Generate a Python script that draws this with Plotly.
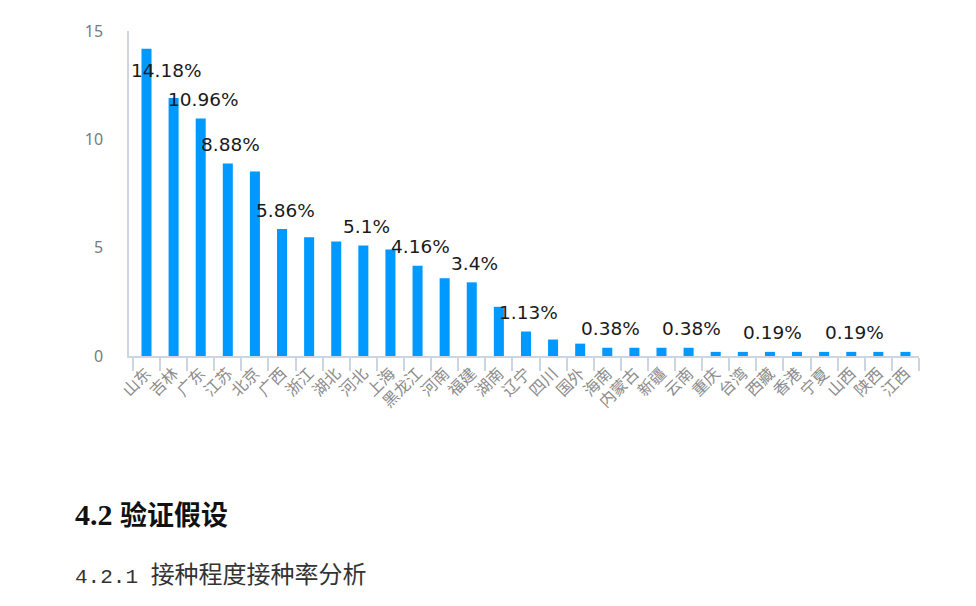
import plotly.graph_objects as go

provinces = ['山东', '吉林', '广东', '江苏', '北京', '广西', '浙江', '湖北', '河北', '上海',
             '黑龙江', '河南', '福建', '湖南', '辽宁', '四川', '国外', '海南', '内蒙古', '新疆',
             '云南', '重庆', '台湾', '西藏', '香港', '宁夏', '山西', '陕西', '江西']
values = [14.18, 11.91, 10.96, 8.88, 8.51, 5.86, 5.48, 5.29, 5.10, 4.91,
          4.16, 3.59, 3.40, 2.27, 1.13, 0.76, 0.57, 0.38, 0.38, 0.38,
          0.38, 0.19, 0.19, 0.19, 0.19, 0.19, 0.19, 0.19, 0.19]
labels = ['14.18%', '', '10.96%', '8.88%', '', '5.86%', '', '', '5.1%', '',
          '4.16%', '', '3.4%', '', '1.13%', '', '', '0.38%', '', '',
          '0.38%', '', '', '0.19%', '', '', '0.19%', '', '']
y_ticks = [0, 5, 10, 15]

heading_num, heading_txt = '4.2 ', '验证假设'
sub_num, sub_txt = '4.2.1 ', '接种程度接种率分析'

# page offset of the figure div (body margin)
OFF = 8
W, H = 976, 606
ML, MT = 129 - OFF, 24 - OFF
MR = W - (919 - OFF)
MB = H - (356 - OFF)
PW, PH = W - ML - MR, H - MT - MB

AXIS_COLOR = '#cdd6e0'
BAR_COLOR = '#0099ff'

fig = go.Figure()
fig.add_trace(go.Bar(
    x=provinces, y=values,
    marker=dict(color=BAR_COLOR, line=dict(width=0)),
    hoverinfo='x+y',
))

annotations = []
for i, (p, v, t) in enumerate(zip(provinces, values, labels)):
    if not t:
        continue
    if i == 0:
        xs, ys = 20, -22
    else:
        xs, ys = 3, 19
    annotations.append(dict(
        x=p, y=v, xref='x', yref='y', text=t, showarrow=False,
        xanchor='center', yanchor='middle', xshift=xs, yshift=ys,
        font=dict(family='DejaVu Sans', size=18.5, color='#1a1a1a'),
    ))


def px_to_paper(px, py):
    return (px - OFF - ML) / PW, (H - MB - (py - OFF)) / PH


hx, hy = px_to_paper(73, 517)
annotations.append(dict(
    x=hx, y=hy, xref='paper', yref='paper',
    text='<b><span style="font-family:Liberation Serif;font-size:30px">' + heading_num
         + '</span>' + heading_txt + '</b>',
    showarrow=False, xanchor='left', yanchor='middle',
    font=dict(family='Noto Sans CJK SC', size=27, color='#111111'),
))
sx, sy = px_to_paper(73, 577)
annotations.append(dict(
    x=sx, y=sy, xref='paper', yref='paper',
    text='<span style="font-family:Liberation Mono;font-size:21px">' + sub_num
         + '</span>' + sub_txt,
    showarrow=False, xanchor='left', yanchor='middle',
    font=dict(family='Noto Sans CJK SC', size=24, color='#333333'),
))

fig.update_layout(
    width=W, height=H,
    margin=dict(l=ML, r=MR, t=MT, b=MB, pad=0),
    paper_bgcolor='white', plot_bgcolor='white',
    bargap=0.63,
    showlegend=False,
    annotations=annotations,
    xaxis=dict(
        type='category',
        showline=True, linecolor=AXIS_COLOR, linewidth=1.5,
        ticks='outside', tickson='boundaries', ticklen=13, tickcolor=AXIS_COLOR, tickwidth=1.5,
        tickangle=-45,
        tickfont=dict(family='Noto Sans CJK SC', size=16, color='#8c8c8c'),
        showgrid=False, zeroline=False,
    ),
    yaxis=dict(
        range=[0, 15],
        tickvals=y_ticks,
        showline=True, linecolor=AXIS_COLOR, linewidth=1.5,
        ticks='', showgrid=False, zeroline=False,
        ticklabelstandoff=21,
        tickfont=dict(family='Noto Sans', size=16, color='#7a7a7a'),
    ),
)

fig.write_html('out.html')
